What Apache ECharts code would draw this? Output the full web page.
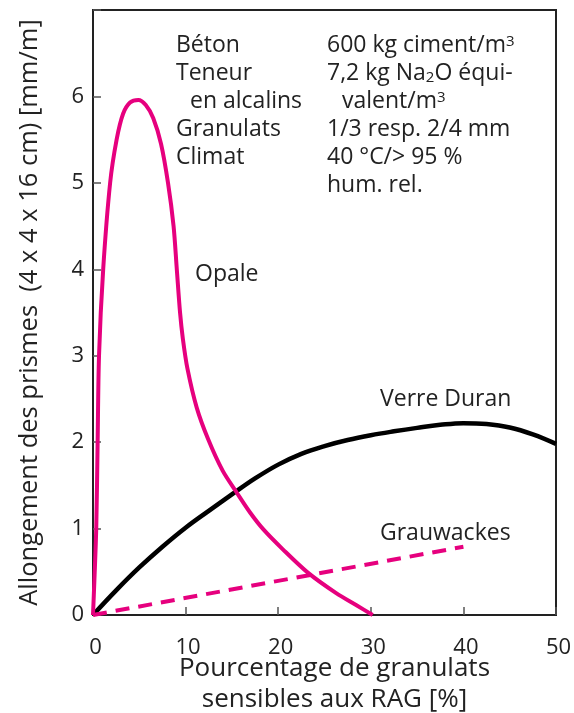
<!DOCTYPE html>
<html>
<head>
<meta charset="utf-8">
<script src="https://cdn.jsdelivr.net/npm/echarts@6/dist/echarts.min.js"></script>
<style>
  html, body { margin: 0; padding: 0; background: #fff; }
  #chart { width: 574px; height: 713px; }
</style>
</head>
<body>
<div id="chart"></div>
<script>
// valeurs (x = % granulats, y = allongement mm/m)
var xTicks = [0, 10, 20, 30, 40, 50];
var yTicks = [0, 1, 2, 3, 4, 5, 6];

var opale = [
  [0, 0], [0.15, 0.4], [0.35, 1.0], [0.5, 2.0], [0.65, 3.0], [1.1, 4.0],
  [1.85, 5.0], [2.55, 5.5], [3.25, 5.8], [4.0, 5.93], [4.9, 5.96], [5.7, 5.9],
  [6.5, 5.75], [7.35, 5.45], [8.1, 5.0], [8.7, 4.5], [9.05, 4.0], [9.4, 3.5],
  [9.7, 3.2], [10.2, 2.85], [11.2, 2.4], [12.45, 2.03], [14, 1.67], [15.5, 1.42],
  [17, 1.18], [18.4, 0.99], [20.5, 0.76], [23.2, 0.49], [26.3, 0.25], [28.5, 0.11],
  [30.2, 0]
];
var verreDuran = [
  [0, 0], [2.5, 0.285], [5, 0.55], [7.5, 0.79], [10, 1.01], [12.5, 1.205],
  [15, 1.395], [17.5, 1.58], [20, 1.74], [22.5, 1.865], [25, 1.955], [27.5, 2.025],
  [30, 2.08], [32.5, 2.125], [35, 2.165], [37.5, 2.2], [40, 2.22], [42.5, 2.21],
  [45, 2.17], [47.5, 2.09], [50, 1.98]
];
var grauwackes = [[0, 0], [40, 0.79]];

var magenta = '#e6007e';
var font = 'Open Sans';

var chart = echarts.init(document.getElementById('chart'));

var rich = {
  n: { fontFamily: font, fontSize: 23, color: '#222' },
  sub: { fontFamily: font, fontSize: 15, color: '#222', verticalAlign: 'bottom' },
  sup: { fontFamily: font, fontSize: 15, color: '#222', verticalAlign: 'top' }
};

// texte annoté, y = centre de la ligne dans la figure
function note(x, y, txt) {
  return {
    type: 'text', left: x, top: y - 9,
    style: { text: txt, rich: rich, fill: '#222', font: '23px ' + font, verticalAlign: 'middle' }
  };
}

chart.setOption({
  animation: false,
  grid: {
    left: 93, right: 18, top: 10, bottom: 98,
    outerBoundsMode: 'none',
    show: true, borderColor: '#222', borderWidth: 2
  },
  xAxis: {
    type: 'value', min: 0, max: 50, interval: 10,
    name: 'Pourcentage de granulats\nsensibles aux RAG [%]',
    nameLocation: 'middle', nameGap: 38, nameMoveOverlap: false,
    nameTextStyle: { fontFamily: font, fontSize: 26, color: '#222', lineHeight: 31, padding: [0, 0, 0, 20] },
    axisLine: { lineStyle: { color: '#222', width: 2 } },
    axisTick: { inside: true, length: 8, lineStyle: { color: '#555', width: 1.5 } },
    axisLabel: { fontFamily: font, fontSize: 22, color: '#222', margin: 22, padding: [0, 0, 0, 5] },
    splitLine: { show: false }
  },
  yAxis: {
    type: 'value', min: 0, max: 7, interval: 1,
    name: 'Allongement des prismes  (4 x 4 x 16 cm) [mm/m]',
    nameLocation: 'middle', nameGap: 50,
    nameTextStyle: { fontFamily: font, fontSize: 25.5, color: '#222' },
    axisLine: { lineStyle: { color: '#222', width: 2 } },
    axisTick: { inside: true, length: 8, lineStyle: { color: '#555', width: 1.5 } },
    axisLabel: {
      fontFamily: font, fontSize: 22, color: '#222', margin: 9,
      formatter: function (v) { return yTicks.indexOf(v) >= 0 ? String(v) : ''; }
    },
    splitLine: { show: false }
  },
  series: [
    {
      name: 'Opale', type: 'line', data: opale, smooth: 0.3,
      showSymbol: false, lineStyle: { color: magenta, width: 4 }, z: 3
    },
    {
      name: 'Verre Duran', type: 'line', data: verreDuran, smooth: 0.4,
      showSymbol: false, lineStyle: { color: '#000', width: 4.5 }, z: 2
    },
    {
      name: 'Grauwackes', type: 'line', data: grauwackes,
      showSymbol: false, lineStyle: { color: magenta, width: 4, type: [14, 9] }, z: 2
    }
  ],
  graphic: [
    note(176, 43, '{n|Béton}'),
    note(176, 71, '{n|Teneur}'),
    note(190, 99, '{n|en alcalins}'),
    note(176, 127, '{n|Granulats}'),
    note(176, 155, '{n|Climat}'),
    note(327, 43, '{n|600 kg ciment/m}{sup|3}'),
    note(327, 71, '{n|7,2 kg Na}{sub|2}{n|O équi-}'),
    note(342, 99, '{n|valent/m}{sup|3}'),
    note(327, 127, '{n|1/3 resp. 2/4 mm}'),
    note(327, 155, '{n|40 °C/> 95 %}'),
    note(327, 183, '{n|hum. rel.}'),
    note(195, 272, '{n|Opale}'),
    note(380, 397, '{n|Verre Duran}'),
    note(380, 531, '{n|Grauwackes}')
  ]
});
</script>
</body>
</html>
